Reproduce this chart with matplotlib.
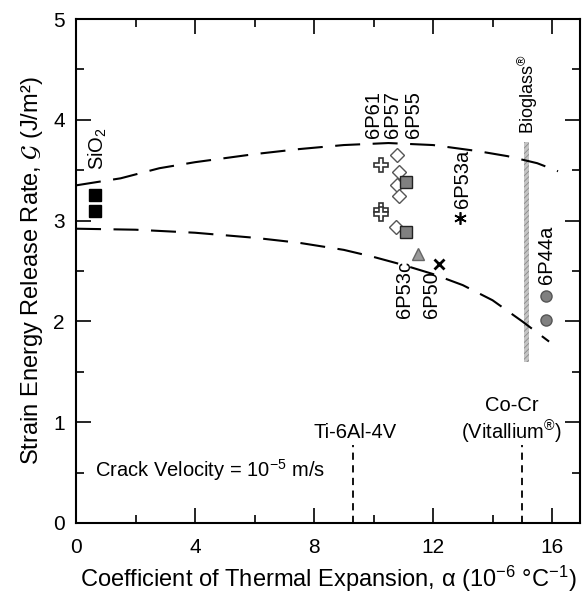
import matplotlib
matplotlib.use("Agg")
import matplotlib.pyplot as plt

plt.rcParams["font.family"] = ["Liberation Sans", "DejaVu Sans"]
plt.rcParams["mathtext.fontset"] = "custom"
plt.rcParams["mathtext.rm"] = "Liberation Sans"
plt.rcParams["mathtext.it"] = "Liberation Sans:italic"
plt.rcParams["hatch.linewidth"] = 0.6

# dashed bounds
upper_x = [0, 1.5, 2.8, 4, 6, 7.5, 9, 10.5, 12, 13.5, 14.5, 15.5, 16.2]
upper_y = [3.35, 3.42, 3.52, 3.58, 3.66, 3.71, 3.75, 3.77, 3.75, 3.69, 3.64, 3.57, 3.49]
lower_x = [0, 2, 4, 6, 7.5, 9, 10, 11, 12, 13, 14, 15, 15.9]
lower_y = [2.92, 2.91, 2.88, 2.83, 2.78, 2.71, 2.64, 2.56, 2.47, 2.36, 2.21, 2.0, 1.80]

# glass data
sio2_x = [0.64, 0.64]
sio2_y = [3.25, 3.10]
p61_x = [10.25, 10.25, 10.25]
p61_y = [3.55, 3.11, 3.07]
p57_x = [10.8, 10.85, 10.8, 10.85, 10.75]
p57_y = [3.65, 3.48, 3.35, 3.24, 2.94]
p55_x = [11.1, 11.1]
p55_y = [3.38, 2.89]
p53c_x = [11.5]
p53c_y = [2.67]
p50_x = [12.2]
p50_y = [2.57]
p53a_x = [12.9]
p53a_y = [3.03]
p44a_x = [15.8, 15.8]
p44a_y = [2.25, 2.01]

bioglass_x = 15.15
bioglass_y = [1.6, 3.78]
ti_x = 9.3
cocr_x = 15.0
metal_top = 0.77

fig = plt.figure(figsize=(5.83, 5.96), dpi=100)
ax = fig.add_axes([0.1304, 0.1225, 0.8645, 0.8455])

ln, = ax.plot(upper_x, upper_y, color="black", lw=1.5)
ln.set_dashes((12, 6))
ln, = ax.plot(lower_x, lower_y, color="black", lw=1.5)
ln.set_dashes((12, 6))

# bioglass band (hatched grey bar)
ax.fill_betweenx(bioglass_y, bioglass_x - 0.09, bioglass_x + 0.09, facecolor="#c4c4c4",
                 edgecolor="#8a8a8a", hatch="//////", lw=0)
ax.plot([ti_x, ti_x], [0, metal_top], color="black", lw=1.3, ls=(0, (4, 3)))
ax.plot([cocr_x, cocr_x], [0, metal_top], color="black", lw=1.3, ls=(0, (4, 3)))

ax.plot(sio2_x, sio2_y, "s", color="black", ms=8, ls="none")
ax.plot(p61_x, p61_y, "P", mfc="white", mec="#333333", mew=1.2, ms=10, ls="none")
ax.plot(p57_x, p57_y, "D", mfc="white", mec="#555555", mew=1.0, ms=7, ls="none")
ax.plot(p55_x, p55_y, "s", mfc="#808080", mec="#222222", mew=1.0, ms=9, ls="none")
ax.plot(p53c_x, p53c_y, "^", mfc="#9a9a9a", mec="#666666", mew=1.0, ms=9, ls="none")
ax.plot(p50_x, p50_y, "x", color="black", mew=2, ms=7, ls="none")
ax.plot(p53a_x, p53a_y, marker=(6, 2, 0), color="black", mew=1.2, ms=9, ls="none")
ax.plot(p44a_x, p44a_y, "o", mfc="#808080", mec="#555555", mew=1.0, ms=8, ls="none")

fs = 14.5
ax.text(0.75, 3.5, "SiO$_2$", rotation=90, ha="center", va="bottom", fontsize=fs)
ax.text(10.0, 3.82, "6P61", rotation=90, ha="center", va="bottom", fontsize=fs)
ax.text(10.65, 3.82, "6P57", rotation=90, ha="center", va="bottom", fontsize=fs)
ax.text(11.35, 3.82, "6P55", rotation=90, ha="center", va="bottom", fontsize=fs)
ax.text(13.0, 3.13, "6P53a", rotation=90, ha="center", va="bottom", fontsize=fs)
ax.text(15.8, 2.37, "6P44a", rotation=90, ha="center", va="bottom", fontsize=fs)
ax.text(11.05, 2.6, "6P53c", rotation=90, ha="center", va="top", fontsize=fs)
ax.text(11.95, 2.5, "6P50", rotation=90, ha="center", va="top", fontsize=fs)
ax.text(15.2, 3.86, "Bioglass$^{\u00ae}$", rotation=90, ha="center", va="bottom", fontsize=fs - 1.5)
ax.text(9.37, 0.84, "Ti-6Al-4V", ha="center", va="baseline", fontsize=fs)
ax.text(14.65, 1.17, "Co-Cr", ha="center", va="center", fontsize=fs)
ax.text(14.65, 0.9, "(Vitallium$^{\u00ae}$)", ha="center", va="center", fontsize=fs)
ax.text(0.64, 0.53, "Crack Velocity = 10$^{-5}$ m/s", ha="left", va="center", fontsize=fs)

ax.set_xlim(0, 16.94)
ax.set_ylim(0, 5)
ax.set_xticks([0, 4, 8, 12, 16])
ax.set_xticks([2, 6, 10, 14], minor=True)
ax.set_yticks([0, 1, 2, 3, 4, 5])
ax.set_yticks([0.5, 1.5, 2.5, 3.5, 4.5], minor=True)
ax.tick_params(which="both", direction="in", top=True, right=True, width=1.2, labelsize=15)
ax.tick_params(which="major", length=11)
ax.tick_params(which="minor", length=6)
ax.tick_params(axis="x", pad=11)
ax.tick_params(axis="y", pad=8)
for s in ax.spines.values():
    s.set_linewidth(1.5)

ax.set_xlabel("Coefficient of Thermal Expansion, \u03b1 (10$^{-6}$ \u00b0C$^{-1}$)", fontsize=17,
              labelpad=5)
ax.set_ylabel("Strain Energy Release Rate, $\\mathcal{G}$ (J/m\u00b2)", fontsize=17,
              math_fontfamily="stix", labelpad=6)

fig.savefig("out.png", dpi=100)
